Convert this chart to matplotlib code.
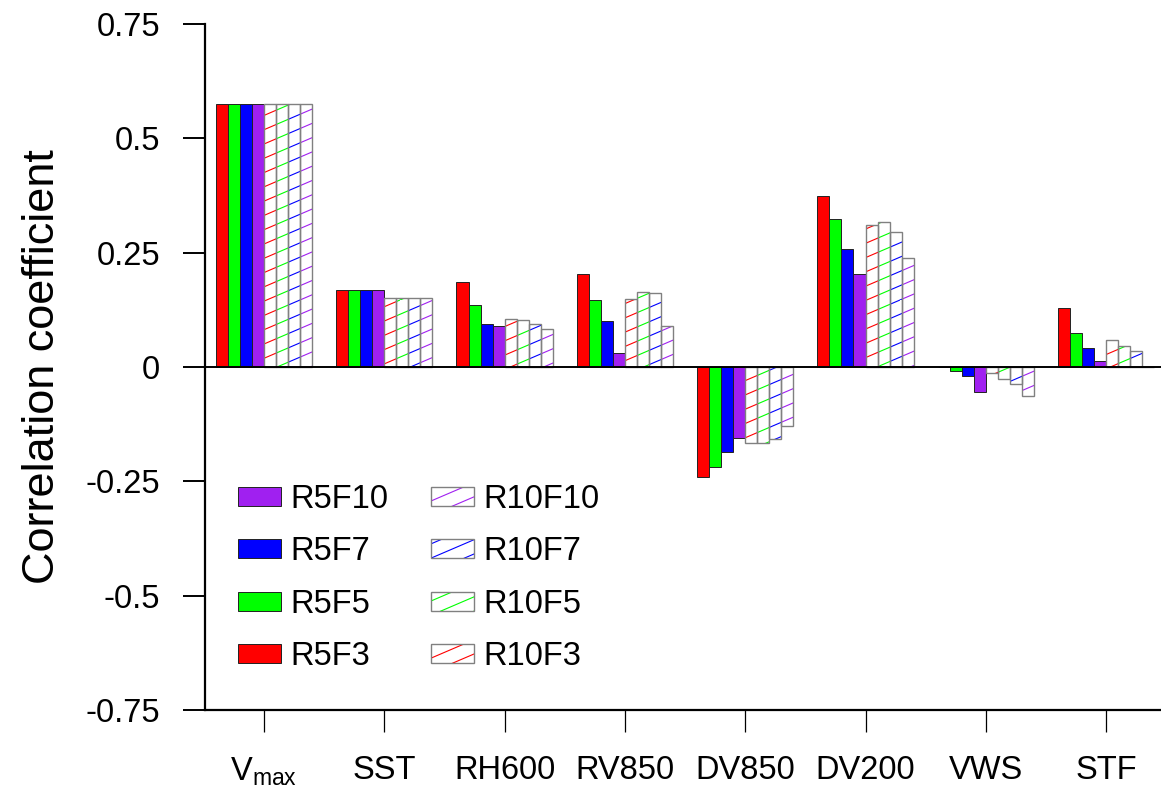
import numpy as np
import matplotlib
matplotlib.use('Agg')
import matplotlib.pyplot as plt
import matplotlib.hatch as mhatch
from matplotlib.path import Path


# shallow "/" hatch like the NCL fill pattern (7 lines per inch, rise 3/7)
class ShallowHatch(mhatch.HatchPatternBase):
    def __init__(self, hatch, density):
        self.num_lines = 10 if hatch.count('/') else 0
        self.num_vertices = self.num_lines * 2

    def set_vertices_and_codes(self, vertices, codes):
        starts = np.arange(-3, 7) / 7.0
        vertices[0::2, 0] = 0.0
        vertices[0::2, 1] = starts
        vertices[1::2, 0] = 1.0
        vertices[1::2, 1] = starts + 3.0 / 7.0
        codes[0::2] = Path.MOVETO
        codes[1::2] = Path.LINETO


mhatch._hatch_types[mhatch._hatch_types.index(mhatch.NorthEastHatch)] = ShallowHatch

plt.rcParams['font.family'] = ['Liberation Sans', 'DejaVu Sans']
plt.rcParams['mathtext.fontset'] = 'custom'
plt.rcParams['mathtext.rm'] = 'Liberation Sans'
plt.rcParams['hatch.linewidth'] = 0.8

categories = [r'$\mathrm{V}_{\mathrm{max}}$', 'SST', 'RH600', 'RV850',
              'DV850', 'DV200', 'VWS', 'STF']

R5F3 = [0.574, 0.168, 0.185, 0.204, -0.241, 0.375, 0.0, 0.130]
R5F5 = [0.574, 0.168, 0.136, 0.147, -0.219, 0.324, -0.008, 0.075]
R5F7 = [0.574, 0.168, 0.095, 0.100, -0.186, 0.259, -0.019, 0.042]
R5F10 = [0.574, 0.168, 0.090, 0.030, -0.155, 0.204, -0.055, 0.013]
R10F3 = [0.574, 0.150, 0.104, 0.148, -0.167, 0.310, -0.012, 0.059]
R10F5 = [0.574, 0.150, 0.103, 0.164, -0.167, 0.316, -0.027, 0.045]
R10F7 = [0.574, 0.150, 0.093, 0.162, -0.158, 0.295, -0.037, 0.034]
R10F10 = [0.574, 0.150, 0.084, 0.090, -0.128, 0.238, -0.064, 0.0]

yticks = [-0.75, -0.5, -0.25, 0, 0.25, 0.5, 0.75]
ytick_labels = ['-0.75', '-0.5', '-0.25', '0', '0.25', '0.5', '0.75']

series = [('R5F3', R5F3, 'red'), ('R5F5', R5F5, '#00ff00'),
          ('R5F7', R5F7, 'blue'), ('R5F10', R5F10, '#a020f0'),
          ('R10F3', R10F3, 'red'), ('R10F5', R10F5, '#00ff00'),
          ('R10F7', R10F7, 'blue'), ('R10F10', R10F10, '#a020f0')]

fs = 23.5
fig = plt.figure(figsize=(11.61, 7.92), dpi=100)
ax = fig.add_axes([0.1766, 0.1035, 0.8234, 0.8662])

x = np.arange(len(categories))
w = 0.1
handles = {}
for i, (name, vals, col) in enumerate(series):
    pos = x + (i - 3.5) * w
    if name.startswith('R5'):
        b = ax.bar(pos, vals, w, color=col, edgecolor='#222222', linewidth=0.7, zorder=2)
        handles[name] = b
    else:
        b1 = ax.bar(pos, vals, w, facecolor='white', edgecolor=col, hatch='/',
                    linewidth=0, zorder=2)
        b2 = ax.bar(pos, vals, w, fill=False, edgecolor='#808080', linewidth=1.0, zorder=3)
        handles[name] = (b1, b2)

ax.axhline(0, color='black', linewidth=1.4, zorder=4)

ax.set_xlim(-0.49, 7.456)
ax.set_ylim(-0.75, 0.75)
ax.set_xticks(x)
ax.set_xticklabels(categories)
ax.set_yticks(yticks)
ax.set_yticklabels(ytick_labels)
ax.tick_params(axis='both', direction='out', length=15.5, pad=17, labelsize=fs)
ax.tick_params(axis='y', width=1.4)
ax.tick_params(axis='x', width=0.9)
for s in ['top', 'right']:
    ax.spines[s].set_visible(False)
for s in ['left', 'bottom']:
    ax.spines[s].set_linewidth(1.6)

ax.set_ylabel('Correlation coefficient', fontsize=32.5, labelpad=16)

order = ['R5F10', 'R5F7', 'R5F5', 'R5F3', 'R10F10', 'R10F7', 'R10F5', 'R10F3']
ax.legend([handles[k] for k in order], order, ncol=2, frameon=False,
          fontsize=fs, loc='upper left', bbox_to_anchor=(0.0345, 0.33),
          borderpad=0, borderaxespad=0, handlelength=1.32, handleheight=0.52,
          handletextpad=0.28, labelspacing=0.66, columnspacing=1.3)

fig.savefig('out.png', dpi=100)
